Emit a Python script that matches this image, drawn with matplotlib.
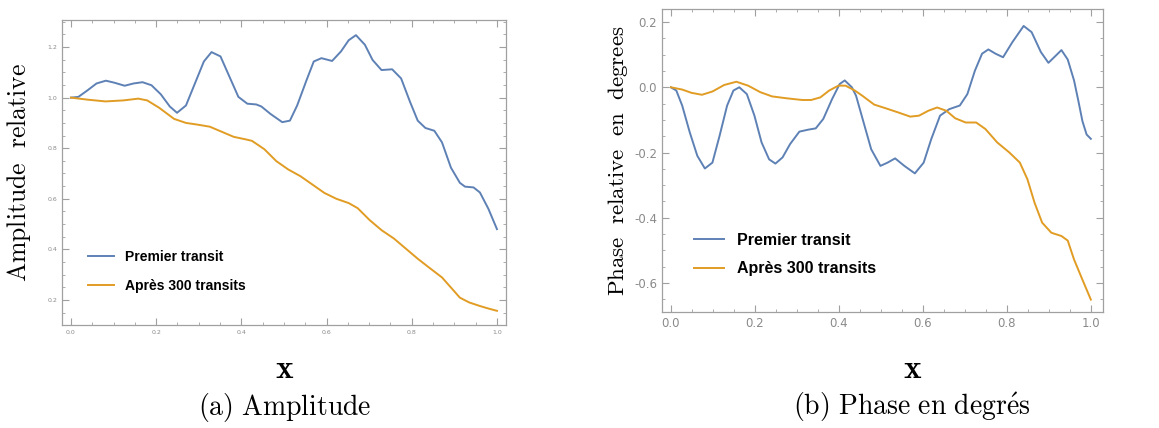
import matplotlib
matplotlib.use('Agg')
from matplotlib import pyplot as plt
from matplotlib.ticker import MultipleLocator

plt.rcParams['mathtext.fontset'] = 'cm'
plt.rcParams['axes.unicode_minus'] = False

blue = '#5e81b5'
orange = '#e19c24'
labels = ['Premier transit', 'Après 300 transits']

# (a) amplitude relative
amp_x1 = [0.0, 0.0175, 0.039, 0.06, 0.082, 0.102, 0.126, 0.147, 0.168, 0.189, 0.211, 0.232, 0.249,
          0.27, 0.291, 0.312, 0.33, 0.351, 0.372, 0.393, 0.414, 0.435, 0.447, 0.468, 0.496, 0.514,
          0.531, 0.553, 0.57, 0.588, 0.613, 0.634, 0.652, 0.669, 0.69, 0.708, 0.729, 0.754, 0.775,
          0.796, 0.814, 0.832, 0.853, 0.871, 0.892, 0.913, 0.925, 0.945, 0.96, 0.98, 1.0]
amp_y1 = [1.0, 1.003, 1.029, 1.056, 1.067, 1.059, 1.047, 1.056, 1.061, 1.049, 1.013, 0.965, 0.94,
          0.969, 1.056, 1.143, 1.18, 1.163, 1.083, 1.003, 0.976, 0.973, 0.965, 0.936, 0.903, 0.909,
          0.969, 1.069, 1.143, 1.156, 1.145, 1.183, 1.227, 1.247, 1.209, 1.149, 1.109, 1.112, 1.076,
          0.983, 0.909, 0.88, 0.869, 0.823, 0.723, 0.663, 0.648, 0.645, 0.625, 0.56, 0.48]
amp_x2 = [0.0, 0.039, 0.081, 0.123, 0.158, 0.179, 0.207, 0.242, 0.27, 0.298, 0.326, 0.354, 0.382,
          0.41, 0.425, 0.454, 0.482, 0.51, 0.539, 0.567, 0.595, 0.623, 0.652, 0.673, 0.701, 0.729,
          0.758, 0.786, 0.814, 0.843, 0.871, 0.892, 0.913, 0.935, 0.96, 0.98, 1.0]
amp_y2 = [1.0, 0.992, 0.985, 0.989, 0.996, 0.989, 0.96, 0.916, 0.90, 0.893, 0.885, 0.865, 0.845,
          0.835, 0.829, 0.796, 0.749, 0.716, 0.689, 0.656, 0.623, 0.60, 0.583, 0.563, 0.516, 0.476,
          0.443, 0.403, 0.363, 0.325, 0.289, 0.249, 0.209, 0.19, 0.176, 0.166, 0.157]

# (b) phase relative
ph_x1 = [0.0, 0.013, 0.027, 0.045, 0.063, 0.081, 0.099, 0.116, 0.134, 0.149, 0.163, 0.181, 0.199,
         0.216, 0.234, 0.249, 0.266, 0.284, 0.306, 0.327, 0.345, 0.363, 0.384, 0.402, 0.414, 0.431,
         0.441, 0.459, 0.477, 0.499, 0.516, 0.534, 0.556, 0.581, 0.602, 0.62, 0.641, 0.663, 0.688,
         0.706, 0.724, 0.741, 0.756, 0.773, 0.791, 0.813, 0.84, 0.859, 0.881, 0.899, 0.915, 0.93,
         0.945, 0.96, 0.97, 0.98, 0.99, 1.0]
ph_y1 = [0.0, -0.01, -0.056, -0.138, -0.21, -0.249, -0.231, -0.149, -0.056, -0.01, 0.0, -0.021,
         -0.087, -0.169, -0.221, -0.234, -0.215, -0.174, -0.136, -0.13, -0.126, -0.097, -0.036, 0.01,
         0.021, 0.0, -0.026, -0.108, -0.19, -0.241, -0.231, -0.218, -0.241, -0.264, -0.231, -0.159,
         -0.087, -0.067, -0.056, -0.021, 0.051, 0.103, 0.116, 0.103, 0.092, 0.138, 0.188, 0.169,
         0.108, 0.075, 0.095, 0.114, 0.085, 0.021, -0.04, -0.104, -0.145, -0.158]
ph_x2 = [0.0, 0.027, 0.049, 0.074, 0.099, 0.127, 0.156, 0.184, 0.213, 0.241, 0.277, 0.313, 0.334,
         0.356, 0.377, 0.399, 0.416, 0.438, 0.456, 0.484, 0.513, 0.541, 0.57, 0.591, 0.613, 0.634,
         0.656, 0.677, 0.702, 0.727, 0.749, 0.777, 0.806, 0.831, 0.849, 0.866, 0.884, 0.906, 0.93,
         0.945, 0.96, 0.98, 1.0]
ph_y2 = [0.0, -0.007, -0.017, -0.023, -0.013, 0.007, 0.017, 0.005, -0.015, -0.028, -0.034, -0.039,
         -0.039, -0.031, -0.01, 0.005, 0.005, -0.01, -0.026, -0.053, -0.065, -0.077, -0.09, -0.087,
         -0.072, -0.062, -0.072, -0.095, -0.108, -0.108, -0.128, -0.169, -0.2, -0.231, -0.282,
         -0.354, -0.415, -0.446, -0.456, -0.47, -0.528, -0.59, -0.651]

fig = plt.figure(figsize=(11.59, 4.28), dpi=100)
ax1 = fig.add_axes([0.0535, 0.2407, 0.383, 0.7126])
ax2 = fig.add_axes([0.5712, 0.271, 0.3805, 0.708])


def style(ax, size):
    for s in ax.spines.values():
        s.set_color('#a0a0a0')
        s.set_linewidth(0.9)
    ax.tick_params(which='both', direction='in', top=True, right=True,
                   color='#a0a0a0', labelcolor='#8a8a8a', labelsize=size)
    ax.tick_params(which='major', length=5)
    ax.tick_params(which='minor', length=2.5)
    ax.xaxis.set_major_locator(MultipleLocator(0.2))
    ax.xaxis.set_minor_locator(MultipleLocator(0.05))
    ax.yaxis.set_major_locator(MultipleLocator(0.2))
    ax.yaxis.set_minor_locator(MultipleLocator(0.05))


ax1.plot(amp_x1, amp_y1, color=blue, lw=1.4, label=labels[0])
ax1.plot(amp_x2, amp_y2, color=orange, lw=1.4, label=labels[1])
ax1.set_xlim(-0.021, 1.021)
ax1.set_ylim(0.101, 1.307)
style(ax1, 4.5)
ax1.set_ylabel(r'$\mathrm{Amplitude\ \ relative}$', fontsize=18.5, labelpad=10)
ax1.legend(loc='lower left', bbox_to_anchor=(0.03, 0.065), frameon=False,
           prop={'family': 'Liberation Sans', 'weight': 'bold', 'size': 10},
           handlelength=1.9, labelspacing=1.05)

ax2.plot(ph_x1, ph_y1, color=blue, lw=1.4, label=labels[0])
ax2.plot(ph_x2, ph_y2, color=orange, lw=1.4, label=labels[1])
ax2.set_xlim(-0.021, 1.029)
ax2.set_ylim(-0.689, 0.24)
style(ax2, 8.5)
ax2.set_ylabel(r'$\mathrm{Phase\ \ relative\ \ en\ \ degrees}$', fontsize=16.5, labelpad=3)
ax2.legend(loc='lower left', bbox_to_anchor=(0.04, 0.07), frameon=False,
           prop={'family': 'Liberation Sans', 'weight': 'bold', 'size': 11.5},
           handlelength=1.9, labelspacing=0.85)

fig.text(0.2459, 1 - 368 / 428, r'$\mathbf{x}$', fontsize=24, ha='center', va='center')
fig.text(0.787, 1 - 368 / 428, r'$\mathbf{x}$', fontsize=24, ha='center', va='center')
fig.text(0.2459, 1 - 407 / 428, r'$\mathrm{(a)\ Amplitude}$', fontsize=20, ha='center', va='center')
fig.text(0.787, 1 - 407 / 428, r'$\mathrm{(b)\ Phase\ en\ degr\acute{e}s}$', fontsize=20,
         ha='center', va='center')

fig.savefig('out.png', dpi=100)
